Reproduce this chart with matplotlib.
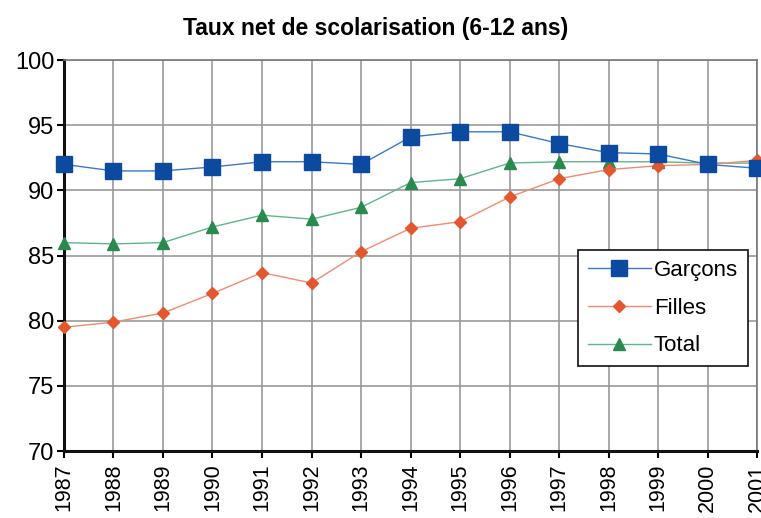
import matplotlib
matplotlib.use("Agg")
import matplotlib.pyplot as plt

years = list(range(1987, 2002))
garcons = [92.0, 91.5, 91.5, 91.8, 92.2, 92.2, 92.0, 94.1, 94.5, 94.5, 93.6, 92.9, 92.8, 92.0, 91.7]
filles = [79.5, 79.9, 80.6, 82.1, 83.7, 82.9, 85.3, 87.1, 87.6, 89.5, 90.9, 91.6, 91.9, 92.0, 92.3]
total = [86.0, 85.9, 86.0, 87.2, 88.1, 87.8, 88.7, 90.6, 90.9, 92.1, 92.2, 92.2, 92.2, 92.1, 92.1]
yticks = [70, 75, 80, 85, 90, 95, 100]

plt.rcParams['font.family'] = ['Liberation Sans', 'DejaVu Sans']

fig = plt.figure(figsize=(7.61, 5.18), dpi=100)
ax = fig.add_axes([0.084, 0.129, 0.911, 0.755])

ax.plot(years, garcons, color='#3a78c8', lw=1.0, marker='s', ms=11,
        mfc='#0b4a9e', mec='#0b4a9e', label='Garçons', clip_on=False, zorder=5)
ax.plot(years, filles, color='#f08a70', lw=1.0, marker='D', ms=6.5,
        mfc='#e4572e', mec='#e4572e', label='Filles', clip_on=False, zorder=4)
ax.plot(years, total, color='#5fb58a', lw=1.0, marker='^', ms=9,
        mfc='#2a8a4e', mec='#2a8a4e', label='Total', clip_on=False, zorder=3)

ax.set_xlim(1987, 2001)
ax.set_ylim(70, 100)
ax.set_yticks(yticks)
ax.set_xticks(years)
ax.set_xticklabels([str(y) for y in years], rotation=90, fontsize=15.5)
ax.tick_params(axis='y', labelsize=17, length=5, width=1.5, pad=2)
ax.tick_params(axis='x', length=5, width=1.5, pad=4)
ax.grid(True, color='#999999', lw=1.2)
ax.set_axisbelow(True)
for s in ['top', 'right']:
    ax.spines[s].set_color('#777777')
    ax.spines[s].set_linewidth(1.2)
for s in ['left', 'bottom']:
    ax.spines[s].set_color('#111111')
    ax.spines[s].set_linewidth(2.2)

fig.text(0.494, 0.945, 'Taux net de scolarisation (6-12 ans)', ha='center', va='center',
         fontsize=16.5, fontweight='bold')

leg = ax.legend(loc='upper left', bbox_to_anchor=(0.742, 0.514), fontsize=16,
                frameon=True, fancybox=False, edgecolor='#111111', framealpha=1,
                handlelength=2.8, borderpad=0.45, labelspacing=0.75, handletextpad=0.15,
                borderaxespad=0)
leg.get_frame().set_linewidth(1.2)

fig.savefig('out.png', dpi=100)
